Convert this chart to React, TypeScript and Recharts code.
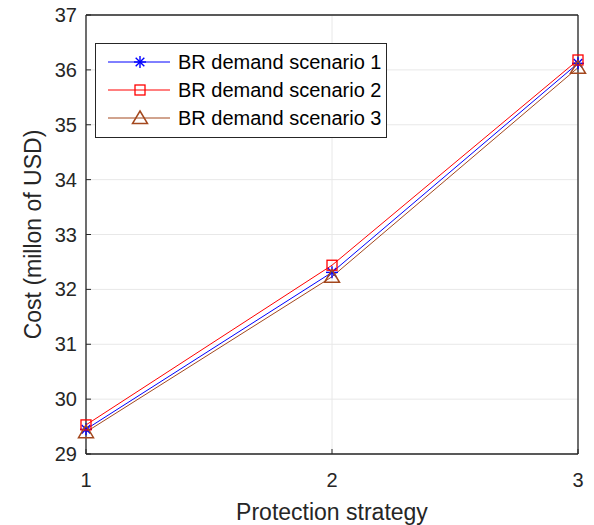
import React from "react"
import { CartesianGrid, Label, Legend, Line, LineChart, ReferenceLine, XAxis, YAxis } from "recharts"

const strategies = [1, 2, 3]
const scenario1 = [29.45, 32.31, 36.12]
const scenario2 = [29.53, 32.44, 36.18]
const scenario3 = [29.4, 32.23, 36.04]
const xTicks = [1, 2, 3]
const yTicks = [29, 30, 31, 32, 33, 34, 35, 36, 37]
const seriesNames = ["BR demand scenario 1", "BR demand scenario 2", "BR demand scenario 3"]

const data = strategies.map((s, i) => ({ s, a: scenario1[i], b: scenario2[i], c: scenario3[i] }))

const BLUE = "#0000FF"
const RED = "#FF0000"
const BROWN = "#A3481E"
const AXIS = "#262626"
const FONT = '"Liberation Sans", Arial, sans-serif'

function Star({ cx, cy, color }: { cx: number; cy: number; color: string }) {
  const r = 6
  const d = 4.3
  return (
    <g stroke={color} strokeWidth={1.4} fill="none">
      <line x1={cx - r} y1={cy} x2={cx + r} y2={cy} />
      <line x1={cx} y1={cy - r} x2={cx} y2={cy + r} />
      <line x1={cx - d} y1={cy - d} x2={cx + d} y2={cy + d} />
      <line x1={cx - d} y1={cy + d} x2={cx + d} y2={cy - d} />
    </g>
  )
}

function Square({ cx, cy, color }: { cx: number; cy: number; color: string }) {
  return <rect x={cx - 5} y={cy - 5} width={10} height={10} stroke={color} strokeWidth={1.3} fill="none" />
}

function Triangle({ cx, cy, color }: { cx: number; cy: number; color: string }) {
  const h = 7
  return (
    <polygon
      points={`${cx},${cy - h} ${cx + 7.5},${cy + h * 0.8} ${cx - 7.5},${cy + h * 0.8}`}
      stroke={color}
      strokeWidth={1.5}
      fill="none"
    />
  )
}

const markers = [Star, Square, Triangle]
const colors = [BLUE, RED, BROWN]

function YTick(props: any) {
  const { x, y, payload } = props
  return (
    <g>
      <line x1={x} y1={y} x2={x + 5} y2={y} stroke={AXIS} />
      <text x={x - 9} y={y + 7} textAnchor="end" fill={AXIS} fontSize={20} fontFamily={FONT}>
        {payload.value}
      </text>
    </g>
  )
}

function XTick(props: any) {
  const { x, y, payload } = props
  return (
    <g>
      <line x1={x} y1={y} x2={x} y2={y - 5} stroke={AXIS} />
      <text x={x} y={y + 33} textAnchor="middle" fill={AXIS} fontSize={20} fontFamily={FONT}>
        {payload.value}
      </text>
    </g>
  )
}

function LegendBox() {
  return (
    <div
      style={{
        width: 292,
        height: 95,
        boxSizing: "border-box",
        border: `1px solid ${AXIS}`,
        background: "#fff",
        paddingTop: 4,
      }}
    >
      {seriesNames.map((name, i) => {
        const M = markers[i]
        return (
          <div key={name} style={{ display: "flex", alignItems: "center", height: 28 }}>
            <svg width={82} height={28} style={{ display: "block" }}>
              <line x1={12} y1={14} x2={74} y2={14} stroke={colors[i]} strokeWidth={1} />
              <M cx={44} cy={14} color={colors[i]} />
            </svg>
            <span style={{ fontFamily: FONT, fontSize: 20, color: "#000", lineHeight: "28px", whiteSpace: "nowrap" }}>
              {name}
            </span>
          </div>
        )
      })}
    </div>
  )
}

const makeDot = (idx: number) => (props: any) => {
  const M = markers[idx]
  return <M key={`m${idx}-${props.index}`} cx={props.cx} cy={props.cy} color={colors[idx]} />
}

export default function App() {
  return (
    <div style={{ position: "absolute", left: 0, top: 0, background: "#fff" }}>
      <LineChart width={594} height={525} data={data} margin={{ top: 15, right: 16, bottom: 21, left: 36 }}>
        <CartesianGrid stroke="#E8E8E8" strokeWidth={1} />
        <XAxis
          dataKey="s"
          type="number"
          domain={[1, 3]}
          ticks={xTicks}
          height={50}
          tickSize={0}
          tickMargin={0}
          tick={<XTick />}
          axisLine={{ stroke: AXIS, strokeWidth: 1.3 }}
          tickLine={false}
        >
          <Label
            content={(p: any) => {
              const vb = p.viewBox
              return (
                <text
                  x={vb.x + vb.width / 2}
                  y={vb.y + 66}
                  textAnchor="middle"
                  fill={AXIS}
                  fontSize={23}
                  fontFamily={FONT}
                >
                  Protection strategy
                </text>
              )
            }}
          />
        </XAxis>
        <YAxis
          type="number"
          domain={[29, 37]}
          ticks={yTicks}
          width={50}
          tickSize={0}
          tickMargin={0}
          tick={<YTick />}
          axisLine={{ stroke: AXIS, strokeWidth: 1.3 }}
          tickLine={false}
        >
          <Label
            content={(p: any) => {
              const vb = p.viewBox
              const cx = vb.x - 3
              const cy = vb.y + vb.height / 2
              return (
                <text
                  x={cx}
                  y={cy}
                  transform={`rotate(-90 ${cx} ${cy})`}
                  textAnchor="middle"
                  dominantBaseline="central"
                  fill={AXIS}
                  fontSize={23}
                  fontFamily={FONT}
                >
                  Cost (millon of USD)
                </text>
              )
            }}
          />
        </YAxis>
        <ReferenceLine y={37} stroke={AXIS} strokeWidth={1.3} />
        <ReferenceLine x={3} stroke={AXIS} strokeWidth={1.3} />
        <Line dataKey="a" stroke={BLUE} strokeWidth={1} dot={makeDot(0)} isAnimationActive={false} />
        <Line dataKey="b" stroke={RED} strokeWidth={1} dot={makeDot(1)} isAnimationActive={false} />
        <Line dataKey="c" stroke={BROWN} strokeWidth={1} dot={makeDot(2)} isAnimationActive={false} />
        <Legend
          layout="horizontal"
          verticalAlign="middle"
          align="center"
          content={() => <LegendBox />}
          wrapperStyle={{ position: "absolute", left: 95, top: 43, width: 292, height: 95 }}
        />
      </LineChart>
    </div>
  )
}
